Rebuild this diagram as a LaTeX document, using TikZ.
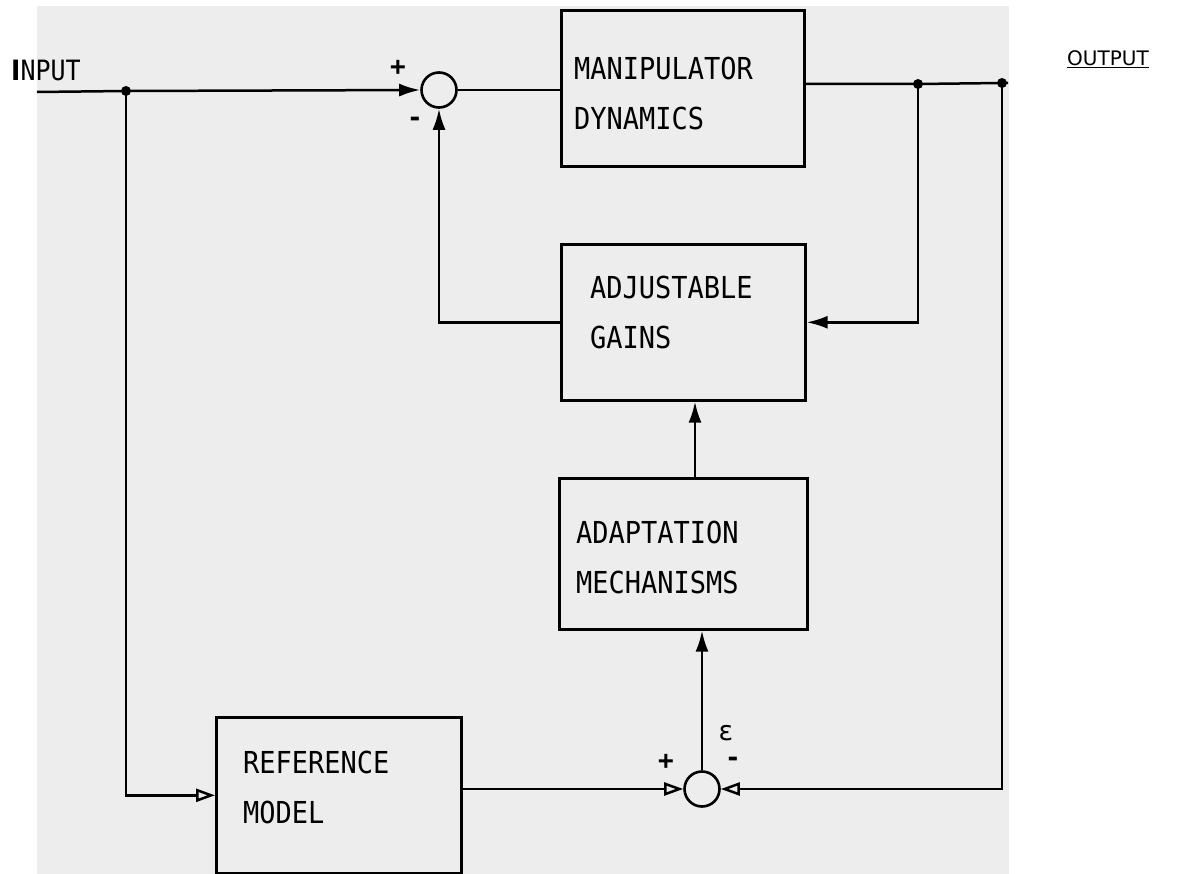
\documentclass[tikz,border=0pt]{standalone}
\usepackage{fontspec}
\setmainfont{DejaVu Sans}
\newfontfamily\monof{DejaVu Sans Mono}
\usetikzlibrary{arrows.meta}
\definecolor{bg}{RGB}{237,237,237}
\newcommand\tallt[1]{\scalebox{1}[1.12]{#1}}
\begin{document}
\begin{tikzpicture}[x=1pt,y=-1pt,
  blk/.style={draw, line width=2.6pt, inner sep=0pt, anchor=north west},
  lbl/.style={font=\monof\fontsize{27}{50}\selectfont, anchor=north west, inner sep=0pt, align=left},
  sgn/.style={font=\monof\bfseries\fontsize{26}{26}\selectfont, inner sep=0pt},
  conn/.style={line width=2.5pt},
  sumc/.style={draw, circle, line width=2.6pt, minimum size=35pt, inner sep=0pt, fill=bg},
  dotn/.style={circle, fill=black, minimum size=10pt, inner sep=0pt},
  ftip/.style={-{Latex[length=21pt,width=13pt]}},
  otip/.style={-{Triangle[open,length=19pt,width=13pt,line width=2.5pt,fill=bg]}}
]
\useasboundingbox (0,0) rectangle (1177,874);
\fill[bg] (37,6) rectangle (1009,874);

% blocks
\node[blk, minimum width=243pt, minimum height=156pt] (manip) at (560,9) {};
\node[blk, minimum width=244pt, minimum height=156pt] (gains) at (560,243) {};
\node[blk, minimum width=248pt, minimum height=151pt] (adapt) at (558,477) {};
\node[blk, minimum width=245pt, minimum height=156pt] (ref) at (215,716) {};

% block texts
\node[lbl] (manipT) at (574,57) {\tallt{MANIPULATOR}\\\tallt{DYNAMICS}};
\node[lbl] (gainsT) at (590,276) {\tallt{ADJUSTABLE}\\\tallt{GAINS}};
\node[lbl] (adaptT) at (576,521) {\tallt{ADAPTATION}\\\tallt{MECHANISMS}};
\node[lbl] (refT) at (243,751) {\tallt{REFERENCE}\\\tallt{MODEL}};

% summing junctions
\node[sumc] (c1) at (439,90) {};
\node[sumc] (c2) at (702,789) {};
\node[sgn] (p1) at (398,68) {+};
\node[sgn] (m1) at (415,122) {-};
\node[sgn] (p2) at (666,762) {+};
\node[sgn] (m2) at (733,762) {-};
\node[font=\fontsize{27}{27}\selectfont, inner sep=0pt] (eps) at (726,733) {ε};

% junction dots
\node[dotn] (d1) at (126,91) {};
\node[dotn] (d2) at (918,84) {};
\node[dotn] (d3) at (1002,83) {};
\coordinate (in) at (37,92);
\coordinate (outend) at (1008,83);
\coordinate (ax) at (695,0);

% outer labels
\node[anchor=base west, inner sep=0pt, font=\monof\fontsize{25}{25}\selectfont] (input) at (11,81) {\tallt{{\fontspec{DejaVu Sans}\bfseries I}NPUT}};
\node[anchor=base west, inner sep=0pt, font=\fontsize{20}{20}\selectfont] (output) at (1067,66) {\underline{OUTPUT}};

% connectors
\draw[conn] (in) -- (d1.center);
\draw[conn, ftip] (d1.center) -- (c1.west);
\draw[conn] (c1.east) -- (c1.east -| manip.west);
\draw[conn] (manip.east |- d2) -- (d2.center) -- (d3.center) -- (outend);
\draw[conn, ftip] (d2.center) |- (gains.east);
\draw[conn, ftip] (gains.west) -| (c1.south);
\draw[conn, ftip] (adapt.north -| ax) -- (gains.south -| ax);
\draw[conn, ftip] (c2.north) -- (adapt.south -| c2.north);
\draw[conn, otip] (d1.center) |- (ref.west);
\draw[conn, otip] (ref.east |- c2.west) -- (c2.west);
\draw[conn, otip] (d3.center) |- (c2.east);
\end{tikzpicture}
\end{document}
